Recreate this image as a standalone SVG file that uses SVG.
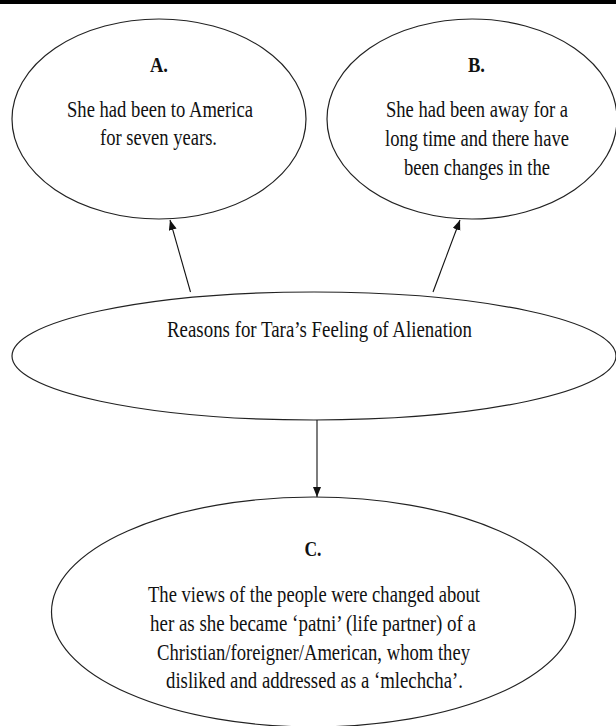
<svg xmlns="http://www.w3.org/2000/svg" width="616" height="726" viewBox="0 0 616 726">
<style>
.node ellipse { fill: #ffffff; stroke: #222222; stroke-width: 1.2; }
text { font-family: "Liberation Serif", "Times New Roman", serif; fill: #111111; text-anchor: middle; }
.body { font-size: 22.5px; }
.head { font-size: 20px; font-weight: bold; }
.conn line { stroke: #111111; stroke-width: 1.1; fill: none; }
</style>
<defs>
<marker id="arrow" markerUnits="userSpaceOnUse" markerWidth="12" markerHeight="10" refX="10" refY="4" orient="auto">
<path d="M0,0 L10,4 L0,8 Z" fill="#111111"/>
</marker>
</defs>
<rect x="0" y="0" width="616" height="4" fill="#000000"/>
<g id="node-a" class="node">
<ellipse cx="159" cy="119" rx="147" ry="100"/>
<text class="head" x="159" y="72" textLength="18" lengthAdjust="spacingAndGlyphs">A.</text>
<text class="body" x="160" y="117" textLength="186" lengthAdjust="spacingAndGlyphs">She had been to America</text>
<text class="body" x="158.5" y="145" textLength="117" lengthAdjust="spacingAndGlyphs">for seven years.</text>
</g>
<g id="node-b" class="node">
<ellipse cx="472" cy="119" rx="145" ry="100"/>
<text class="head" x="476.5" y="72" textLength="17" lengthAdjust="spacingAndGlyphs">B.</text>
<text class="body" x="477" y="117" textLength="182" lengthAdjust="spacingAndGlyphs">She had been away for a</text>
<text class="body" x="477" y="146" textLength="184" lengthAdjust="spacingAndGlyphs">long time and there have</text>
<text class="body" x="477" y="175" textLength="146" lengthAdjust="spacingAndGlyphs">been changes in the</text>
</g>
<g id="node-center" class="node">
<ellipse cx="314" cy="356" rx="302" ry="64"/>
<text class="body" x="319.5" y="337" textLength="305" lengthAdjust="spacingAndGlyphs">Reasons for Tara’s Feeling of Alienation</text>
</g>
<g id="node-c" class="node">
<ellipse cx="313.5" cy="612" rx="262" ry="115"/>
<text class="head" x="313" y="556" textLength="17" lengthAdjust="spacingAndGlyphs">C.</text>
<text class="body" x="314" y="602" textLength="332" lengthAdjust="spacingAndGlyphs">The views of the people were changed about</text>
<text class="body" x="313" y="631" textLength="326" lengthAdjust="spacingAndGlyphs">her as she became ‘patni’ (life partner) of a</text>
<text class="body" x="313.5" y="660" textLength="313" lengthAdjust="spacingAndGlyphs">Christian/foreigner/American, whom they</text>
<text class="body" x="314.5" y="688" textLength="297" lengthAdjust="spacingAndGlyphs">disliked and addressed as a ‘mlechcha’.</text>
</g>
<g id="connectors" class="conn">
<line x1="190.5" y1="292" x2="170" y2="220" marker-end="url(#arrow)"/>
<line x1="433" y1="292" x2="460" y2="220" marker-end="url(#arrow)"/>
<line x1="317" y1="420" x2="317" y2="497" marker-end="url(#arrow)"/>
</g>
</svg>
